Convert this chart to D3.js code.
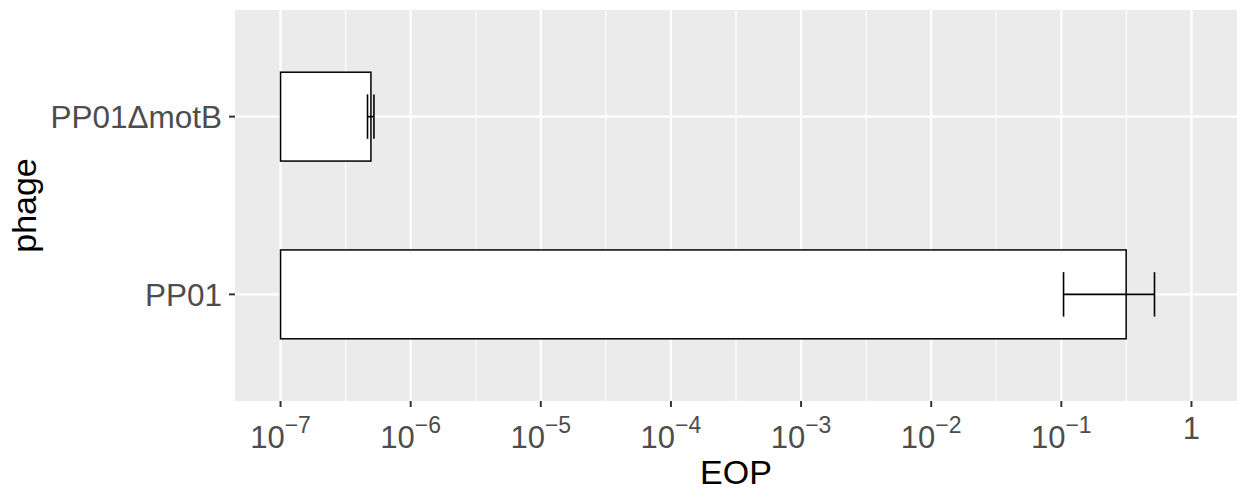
<!DOCTYPE html>
<html>
<head>
<meta charset="utf-8">
<script src="https://cdn.jsdelivr.net/npm/d3@7"></script>
<style>
  html, body { margin: 0; padding: 0; background: #fff; }
  svg { display: block; font-family: "Liberation Sans", Arial, sans-serif; }
</style>
</head>
<body>
<svg id="chart" width="1237" height="492"></svg>
<script>
// Efficiency of plating per phage (mean with error range)
const categories = ["PP01", "PP01\u0394motB"];
const eopMean = [0.315, 4.95e-7];
const eopLow = [0.104, 4.66e-7];
const eopHigh = [0.52, 5.22e-7];
const xTickValues = [1e-7, 1e-6, 1e-5, 1e-4, 1e-3, 1e-2, 1e-1, 1];
const xTickExponents = ["\u22127", "\u22126", "\u22125", "\u22124", "\u22123", "\u22122", "\u22121", null];
const xMinorValues = [-6.5, -5.5, -4.5, -3.5, -2.5, -1.5, -0.5].map(e => Math.pow(10, e));

const data = categories.map((c, i) => ({ phage: c, mean: eopMean[i], lo: eopLow[i], hi: eopHigh[i] }));

const svg = d3.select("#chart");
const panel = { left: 235, right: 1237, top: 10, bottom: 401 };

// log x scale with 5% expansion around [1e-7, 1]
const logMin = -7, logMax = 0, pad = (logMax - logMin) * 0.05;
const x = d3.scaleLog()
  .domain([Math.pow(10, logMin - pad), Math.pow(10, logMax + pad)])
  .range([panel.left, panel.right]);

// discrete y axis: positions 1..n with 0.6 expansion on each side
const yPos = d3.scaleLinear()
  .domain([0.4, categories.length + 0.6])
  .range([panel.bottom, panel.top]);
const yOf = name => yPos(categories.indexOf(name) + 1);
const unit = Math.abs(yPos(1) - yPos(0));

// panel background
svg.append("rect")
  .attr("x", panel.left).attr("y", panel.top)
  .attr("width", panel.right - panel.left).attr("height", panel.bottom - panel.top)
  .attr("fill", "#EBEBEB");

// grid lines
const grid = svg.append("g");
grid.selectAll("line.minor").data(xMinorValues).join("line")
  .attr("x1", d => x(d)).attr("x2", d => x(d))
  .attr("y1", panel.top).attr("y2", panel.bottom)
  .attr("stroke", "#fff").attr("stroke-width", 1.1);
grid.selectAll("line.majx").data(xTickValues).join("line")
  .attr("x1", d => x(d)).attr("x2", d => x(d))
  .attr("y1", panel.top).attr("y2", panel.bottom)
  .attr("stroke", "#fff").attr("stroke-width", 2.2);
grid.selectAll("line.majy").data(categories).join("line")
  .attr("x1", panel.left).attr("x2", panel.right)
  .attr("y1", d => yOf(d)).attr("y2", d => yOf(d))
  .attr("stroke", "#fff").attr("stroke-width", 2.2);

// bars, starting from the lower limit 1e-7
const barHalf = unit * 0.5 / 2;
svg.append("g").selectAll("rect").data(data).join("rect")
  .attr("x", x(1e-7))
  .attr("y", d => yOf(d.phage) - barHalf)
  .attr("width", d => x(d.mean) - x(1e-7))
  .attr("height", barHalf * 2)
  .attr("fill", "#fff").attr("stroke", "#000").attr("stroke-width", 1.5);

// error bars
const capHalf = unit * 0.25 / 2;
const eb = svg.append("g").attr("stroke", "#000").attr("stroke-width", 1.6);
data.forEach(d => {
  const yc = yOf(d.phage);
  eb.append("line").attr("x1", x(d.lo)).attr("x2", x(d.hi)).attr("y1", yc).attr("y2", yc);
  eb.append("line").attr("x1", x(d.lo)).attr("x2", x(d.lo)).attr("y1", yc - capHalf).attr("y2", yc + capHalf);
  eb.append("line").attr("x1", x(d.hi)).attr("x2", x(d.hi)).attr("y1", yc - capHalf).attr("y2", yc + capHalf);
});

// x axis ticks and labels
const xAxis = svg.append("g");
xAxis.selectAll("line").data(xTickValues).join("line")
  .attr("x1", d => x(d)).attr("x2", d => x(d))
  .attr("y1", panel.bottom).attr("y2", panel.bottom + 6)
  .attr("stroke", "#333").attr("stroke-width", 2);
xTickValues.forEach((v, i) => {
  const t = xAxis.append("text")
    .attr("x", x(v)).attr("y", 448)
    .attr("text-anchor", "middle")
    .attr("fill", "#4D4D4D")
    .attr("font-size", 31);
  if (xTickExponents[i] === null) {
    t.attr("y", 439).text("1");
  } else {
    t.append("tspan").text("10");
    t.append("tspan").attr("font-size", 23).attr("dy", -15).text(xTickExponents[i]);
  }
});

// y axis ticks and labels
const yAxis = svg.append("g");
yAxis.selectAll("line").data(categories).join("line")
  .attr("x1", panel.left - 6).attr("x2", panel.left)
  .attr("y1", d => yOf(d)).attr("y2", d => yOf(d))
  .attr("stroke", "#333").attr("stroke-width", 2);
yAxis.selectAll("text").data(categories).join("text")
  .attr("x", panel.left - 13).attr("y", d => yOf(d))
  .attr("dy", "0.36em")
  .attr("text-anchor", "end")
  .attr("fill", "#4D4D4D")
  .attr("font-size", 31.5)
  .text(d => d);

// axis titles
svg.append("text")
  .attr("x", (panel.left + panel.right) / 2).attr("y", 484)
  .attr("text-anchor", "middle").attr("font-size", 34).attr("fill", "#000")
  .text("EOP");
svg.append("text")
  .attr("transform", `translate(36,${(panel.top + panel.bottom) / 2}) rotate(-90)`)
  .attr("text-anchor", "middle").attr("font-size", 34).attr("fill", "#000")
  .text("phage");
</script>
</body>
</html>
